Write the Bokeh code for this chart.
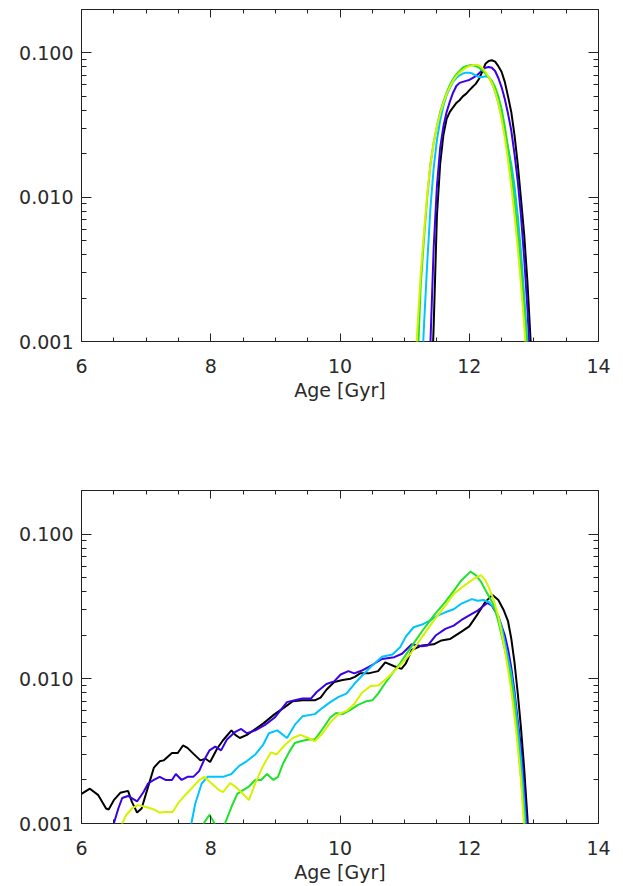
import numpy as np
from bokeh.plotting import figure
from bokeh.models import Range1d, FixedTicker, LinearAxis, LogAxis, PrintfTickFormatter
from bokeh.layouts import column
from bokeh.embed import file_html
from bokeh.resources import INLINE

# ---------------- data ----------------
series_names = ["black", "blue", "cyan", "green", "yellow"]
series_colors = ["#000000", "#3a00e6", "#00c4ff", "#1fe22a", "#d6f200"]

x_ticks = [6, 8, 10, 12, 14]
x_tick_labels = ["6", "8", "10", "12", "14"]
y_ticks = [0.001, 0.01, 0.1]
y_tick_labels = ["0.001", "0.010", "0.100"]
x_label = "Age [Gyr]"

# Top panel: common age grid
top_age = [11.15, 11.20, 11.25, 11.30, 11.35, 11.40, 11.45, 11.50, 11.55, 11.60,
           11.65, 11.70, 11.75, 11.80, 11.85, 11.90, 11.95, 12.00, 12.05, 12.10,
           12.15, 12.20, 12.25, 12.30, 12.35, 12.40, 12.45, 12.50, 12.55, 12.60,
           12.65, 12.70, 12.75, 12.80, 12.85, 12.90, 12.95, 13.00]
top_black = [0.0001, 0.0001, 0.0001, 0.0001, 0.0001, 0.0003, 0.0013, 0.0075, 0.017, 0.027,
             0.035, 0.039, 0.042, 0.045, 0.047, 0.050, 0.052, 0.055, 0.058, 0.061,
             0.066, 0.074, 0.084, 0.088, 0.089, 0.087, 0.081, 0.074, 0.063, 0.050,
             0.039, 0.027, 0.017, 0.0098, 0.0055, 0.0026, 0.0010, 0.0003]
top_blue = [0.0001, 0.0001, 0.0001, 0.0001, 0.0003, 0.0010, 0.0045, 0.012, 0.022, 0.031,
            0.039, 0.046, 0.053, 0.059, 0.062, 0.063, 0.064, 0.065, 0.067, 0.069,
            0.072, 0.076, 0.079, 0.080, 0.079, 0.075, 0.067, 0.058, 0.048, 0.038,
            0.029, 0.020, 0.013, 0.0075, 0.0038, 0.0017, 0.0006, 0.0002]
top_cyan = [0.0001, 0.0001, 0.0004, 0.0013, 0.0035, 0.0085, 0.016, 0.025, 0.034, 0.043,
            0.051, 0.057, 0.063, 0.067, 0.070, 0.072, 0.073, 0.073, 0.072, 0.070,
            0.068, 0.068, 0.069, 0.068, 0.062, 0.054, 0.045, 0.036, 0.028, 0.022,
            0.017, 0.012, 0.0075, 0.0042, 0.0021, 0.0010, 0.0004, 0.0001]
top_green = [0.0001, 0.0007, 0.0025, 0.0052, 0.010, 0.017, 0.024, 0.031, 0.039, 0.046,
             0.053, 0.060, 0.066, 0.071, 0.075, 0.079, 0.081, 0.082, 0.082, 0.081,
             0.079, 0.076, 0.072, 0.068, 0.064, 0.058, 0.050, 0.041, 0.031, 0.022,
             0.015, 0.0095, 0.0058, 0.0033, 0.0018, 0.0009, 0.0004, 0.0001]
top_yellow = [0.0005, 0.0013, 0.0030, 0.0058, 0.0105, 0.017, 0.024, 0.031, 0.038, 0.045,
              0.052, 0.058, 0.064, 0.069, 0.073, 0.076, 0.079, 0.081, 0.082, 0.083,
              0.082, 0.079, 0.074, 0.068, 0.062, 0.054, 0.045, 0.035, 0.026, 0.018,
              0.012, 0.0075, 0.0045, 0.0025, 0.0013, 0.0006, 0.0002, 0.0001]

# Bottom panel: each series with its own ages
bot_black_age = [6.00, 6.13, 6.26, 6.38, 6.42, 6.50, 6.60, 6.72, 6.78, 6.86, 6.93, 7.03, 7.12,
                 7.21, 7.27, 7.40, 7.49, 7.57, 7.64, 7.73, 7.84, 7.92, 7.99, 8.10, 8.19, 8.32,
                 8.38, 8.45, 8.56, 8.69, 8.81, 8.99, 9.15, 9.27, 9.42, 9.61, 9.70, 9.79, 9.91,
                 10.04, 10.16, 10.23, 10.31, 10.44, 10.59, 10.70, 10.84, 10.95, 11.02, 11.11,
                 11.27, 11.45, 11.57, 11.70, 11.88, 12.00, 12.13, 12.25, 12.36, 12.45, 12.53,
                 12.60, 12.65, 12.70, 12.75, 12.80, 12.85, 12.90, 12.95]
bot_black = [0.0016, 0.00174, 0.00157, 0.00127, 0.00125, 0.00145, 0.00163, 0.00168, 0.00141,
             0.00119, 0.00127, 0.00179, 0.00243, 0.00269, 0.00273, 0.00307, 0.00307, 0.00346,
             0.00333, 0.00304, 0.00273, 0.0028, 0.00266, 0.0033, 0.00376, 0.0044, 0.0041,
             0.0039, 0.0041, 0.0045, 0.0049, 0.0057, 0.0064, 0.0070, 0.0071, 0.0071, 0.0074,
             0.0084, 0.0095, 0.0098, 0.0100, 0.0103, 0.0109, 0.0109, 0.0113, 0.0130, 0.0122,
             0.0117, 0.0128, 0.0158, 0.0170, 0.0173, 0.0184, 0.0188, 0.0212, 0.023, 0.028,
             0.034, 0.038, 0.035, 0.030, 0.025, 0.019, 0.013, 0.0080, 0.0046, 0.0024, 0.0011,
             0.0004]

bot_blue_age = [6.45, 6.50, 6.57, 6.63, 6.72, 6.86, 6.96, 7.03, 7.12, 7.21, 7.30, 7.40, 7.46,
                7.55, 7.64, 7.73, 7.82, 7.90, 7.98, 8.07, 8.16, 8.25, 8.38, 8.47, 8.56, 8.69,
                8.84, 8.99, 9.18, 9.30, 9.42, 9.55, 9.64, 9.79, 9.91, 10.01, 10.13, 10.22,
                10.34, 10.53, 10.65, 10.84, 10.96, 11.11, 11.27, 11.36, 11.48, 11.63, 11.76,
                11.88, 12.00, 12.13, 12.28, 12.35, 12.45, 12.55, 12.60, 12.65, 12.70, 12.75,
                12.80, 12.85, 12.89, 12.93]
bot_blue = [0.0007, 0.0010, 0.00127, 0.00150, 0.00155, 0.00142, 0.00165, 0.00189, 0.0020,
            0.0021, 0.0020, 0.0020, 0.0022, 0.0020, 0.0021, 0.0021, 0.0023, 0.00276, 0.0032,
            0.0034, 0.0032, 0.0038, 0.0043, 0.0045, 0.0042, 0.0044, 0.0048, 0.0054, 0.0069,
            0.0071, 0.0073, 0.0073, 0.0081, 0.0092, 0.0096, 0.0107, 0.0113, 0.0109, 0.0114,
            0.0127, 0.0137, 0.0141, 0.0149, 0.0173, 0.0168, 0.0170, 0.0199, 0.0221, 0.0233,
            0.0255, 0.0274, 0.0296, 0.0334, 0.032, 0.027, 0.020, 0.016, 0.012, 0.0082,
            0.0052, 0.0034, 0.0018, 0.0010, 0.0004]

bot_cyan_age = [7.65, 7.70, 7.76, 7.86, 7.95, 8.07, 8.19, 8.32, 8.44, 8.56, 8.69, 8.81, 8.90,
                9.03, 9.18, 9.30, 9.42, 9.61, 9.73, 9.85, 9.98, 10.10, 10.22, 10.34, 10.47,
                10.65, 10.81, 10.93, 11.02, 11.14, 11.27, 11.39, 11.51, 11.63, 11.76, 11.88,
                12.04, 12.13, 12.22, 12.31, 12.40, 12.45, 12.50, 12.55, 12.60, 12.65, 12.70,
                12.75, 12.80, 12.85, 12.88, 12.92]
bot_cyan = [0.0006, 0.0010, 0.00137, 0.00189, 0.0021, 0.0021, 0.0021, 0.0022, 0.0025, 0.0027,
            0.0030, 0.0035, 0.0042, 0.0044, 0.0039, 0.0048, 0.0055, 0.0057, 0.0063, 0.0069,
            0.0075, 0.0079, 0.0092, 0.0105, 0.0120, 0.0142, 0.0147, 0.0165, 0.0196, 0.0227,
            0.0237, 0.0252, 0.0273, 0.0288, 0.0302, 0.0331, 0.0355, 0.0346, 0.035, 0.0338,
            0.030, 0.027, 0.023, 0.018, 0.014, 0.0109, 0.0075, 0.0047, 0.0028, 0.0014,
            0.0009, 0.0004]

bot_green_age = [7.84, 7.89, 7.98, 8.06, 8.10, 8.18, 8.22, 8.32, 8.41, 8.50, 8.59, 8.69, 8.78,
                 8.87, 8.97, 9.04, 9.12, 9.21, 9.30, 9.39, 9.51, 9.61, 9.73, 9.85, 9.94, 10.04,
                 10.16, 10.28, 10.41, 10.50, 10.59, 10.69, 10.81, 10.93, 11.08, 11.27, 11.45,
                 11.63, 11.76, 11.88, 12.02, 12.10, 12.18, 12.25, 12.32, 12.37, 12.45, 12.50,
                 12.55, 12.63, 12.70, 12.75, 12.80, 12.85, 12.89]
bot_green = [0.0007, 0.0010, 0.00115, 0.0010, 0.0007, 0.0006, 0.0010, 0.0013, 0.0016, 0.0017,
             0.0018, 0.0020, 0.0020, 0.0022, 0.0020, 0.0021, 0.0026, 0.0031, 0.0036, 0.0037,
             0.0038, 0.0038, 0.0045, 0.0054, 0.0058, 0.0057, 0.0061, 0.0066, 0.0070, 0.0071,
             0.0079, 0.0092, 0.0109, 0.0128, 0.0161, 0.0213, 0.0273, 0.0340, 0.0405, 0.0480,
             0.0550, 0.052, 0.047, 0.041, 0.036, 0.033, 0.025, 0.020, 0.016, 0.0109, 0.0066,
             0.0038, 0.0021, 0.0011, 0.0005]

bot_yellow_age = [6.58, 6.63, 6.69, 6.78, 6.87, 7.00, 7.12, 7.21, 7.30, 7.41, 7.49, 7.58, 7.70,
                  7.82, 7.90, 8.01, 8.13, 8.19, 8.30, 8.38, 8.47, 8.59, 8.69, 8.81, 8.93, 9.02,
                  9.15, 9.27, 9.39, 9.51, 9.61, 9.73, 9.85, 9.98, 10.10, 10.22, 10.34, 10.47,
                  10.59, 10.74, 10.90, 11.09, 11.27, 11.45, 11.63, 11.76, 11.94, 12.07, 12.18,
                  12.25, 12.30, 12.37, 12.45, 12.50, 12.55, 12.61, 12.65, 12.70, 12.74, 12.80,
                  12.84, 12.88]
bot_yellow = [0.0006, 0.0010, 0.00114, 0.00127, 0.00134, 0.0013, 0.00125, 0.00119, 0.0012,
              0.0012, 0.00137, 0.00153, 0.00174, 0.00199, 0.0021, 0.0019, 0.0017, 0.00165,
              0.0019, 0.0018, 0.00165, 0.00145, 0.0019, 0.0025, 0.0031, 0.0030, 0.0035, 0.0039,
              0.0041, 0.0039, 0.0037, 0.0042, 0.0050, 0.0057, 0.0060, 0.0067, 0.0080, 0.0089,
              0.0090, 0.0102, 0.0120, 0.0149, 0.0194, 0.0252, 0.0320, 0.0386, 0.0446, 0.0490,
              0.052, 0.048, 0.043, 0.036, 0.027, 0.021, 0.016, 0.0109, 0.0083, 0.0055, 0.0038,
              0.0020, 0.0011, 0.0005]

top_series = [(top_age, top_black), (top_age, top_blue), (top_age, top_cyan),
              (top_age, top_green), (top_age, top_yellow)]
bot_series = [(bot_black_age, bot_black), (bot_blue_age, bot_blue), (bot_cyan_age, bot_cyan),
              (bot_green_age, bot_green), (bot_yellow_age, bot_yellow)]

# ---------------- styling ----------------
FONT = "DejaVu Sans"
TXT = "#2a2a2a"
x_minor = [float(v) for v in np.arange(6.0, 14.01, 0.5) if abs(v - round(v / 2) * 2) > 1e-6]
y_minor = [m * d for d in (0.001, 0.01, 0.1) for m in range(2, 10) if m * d <= 0.2 + 1e-9]


def style_axis(ax, major_in, minor_in):
    ax.major_tick_in = major_in
    ax.major_tick_out = 0
    ax.minor_tick_in = minor_in
    ax.minor_tick_out = 0
    ax.axis_line_color = None
    ax.major_tick_line_color = "#222222"
    ax.minor_tick_line_color = "#222222"
    ax.major_tick_line_width = 1
    ax.minor_tick_line_width = 1
    ax.major_label_text_font = FONT
    ax.major_label_text_font_size = "19px"
    ax.major_label_text_color = TXT


def make_panel(series, top_border, bottom_border, frame_h):
    p = figure(frame_width=517, frame_height=frame_h,
               x_range=Range1d(6, 14), y_range=Range1d(0.001, 0.2),
               y_axis_type="log", output_backend="svg", toolbar_location=None,
               min_border_left=81, min_border_right=25,
               min_border_top=top_border, min_border_bottom=bottom_border)
    p.xgrid.visible = False
    p.ygrid.visible = False
    p.outline_line_color = "#222222"
    p.outline_line_width = 1
    p.background_fill_color = "white"
    p.border_fill_color = "white"

    xt = FixedTicker(ticks=x_ticks, minor_ticks=x_minor)
    yt = FixedTicker(ticks=y_ticks, minor_ticks=y_minor)

    xa = p.xaxis[0]
    xa.ticker = xt
    xa.major_label_overrides = dict(zip([float(t) for t in x_ticks], x_tick_labels))
    style_axis(xa, 8, 4)
    xa.major_label_standoff = 17
    xa.axis_label = x_label
    xa.axis_label_text_font = FONT
    xa.axis_label_text_font_size = "19px"
    xa.axis_label_text_font_style = "normal"
    xa.axis_label_text_color = TXT
    xa.axis_label_standoff = 3

    ya = p.yaxis[0]
    ya.ticker = yt
    ya.formatter = PrintfTickFormatter(format="%.3f")
    ya.major_label_overrides = dict(zip(y_ticks, y_tick_labels))
    style_axis(ya, 10, 5)
    ya.major_label_standoff = 8

    # mirrored tick marks on the top and right edges (no labels)
    top_ax = LinearAxis(ticker=FixedTicker(ticks=x_ticks, minor_ticks=x_minor))
    style_axis(top_ax, 8, 4)
    top_ax.major_label_text_alpha = 0
    top_ax.major_label_text_font_size = "1px"
    top_ax.major_label_standoff = 0
    p.add_layout(top_ax, "above")
    right_ax = LogAxis(ticker=FixedTicker(ticks=y_ticks, minor_ticks=y_minor))
    style_axis(right_ax, 10, 5)
    right_ax.major_label_text_alpha = 0
    right_ax.major_label_text_font_size = "1px"
    right_ax.major_label_standoff = 0
    p.add_layout(right_ax, "right")

    for (xs, ys), c in zip(series, series_colors):
        p.line(xs, ys, line_color=c, line_width=2)
    return p


p1 = make_panel(top_series, 9, 100, 332)
p2 = make_panel(bot_series, 49, 40, 333)

layout = column(p1, p2, spacing=0)
open("out.html", "w").write(file_html(layout, INLINE))
